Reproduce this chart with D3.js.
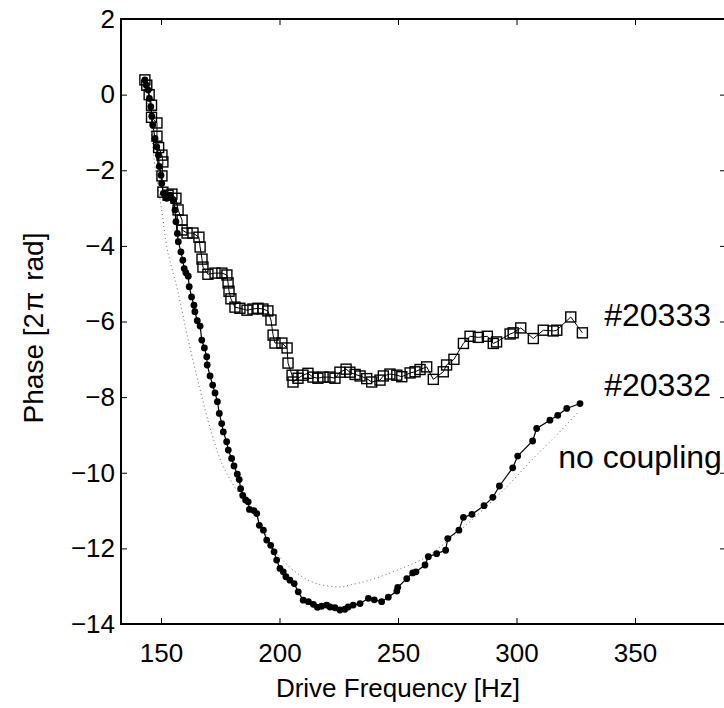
<!DOCTYPE html>
<html>
<head>
<meta charset="utf-8">
<script src="https://cdn.jsdelivr.net/npm/d3@7"></script>
<style>
    body { margin: 0; background: #fff; }
    text { font-family: "Liberation Sans", Arial, sans-serif; fill: #000; }
</style>
</head>
<body>
<div id="chart"></div>
<script>
// #20333 (squares)
const freq20333 = [143.2, 144.0, 145.0, 146.0, 146.0, 148.3, 148.3, 149.0, 150.4, 150.8, 150.4, 150.8,
    153.0, 154.6, 156.3, 157.2, 158.9, 158.9, 161.0, 163.5, 166.0, 166.5, 167.3, 167.7, 169.8, 172.8,
    175.7, 177.8, 178.3, 178.7, 179.5, 181.2, 183.3, 186.3, 188.8, 190.9, 193.0, 195.1, 196.4, 197.3,
    198.1, 201.0, 203.2, 203.6, 205.3, 205.7, 207.8, 209.9, 212.0, 214.1, 216.2, 218.4, 221.3, 223.4,
    225.5, 228.1, 229.7, 231.9, 234.0, 236.8, 238.9, 242.4, 243.8, 246.6, 249.5, 251.6, 255.1, 257.2,
    259.3, 262.1, 264.9, 269.1, 270.5, 273.6, 277.6, 280.4, 283.9, 287.7, 290.2, 291.6, 297.3, 298.6,
    301.8, 307.1, 311.3, 315.5, 317.0, 322.9, 327.8];
const phase20333 = [0.39, 0.25, 0.0, -0.28, -0.6, -0.75, -1.1, -1.4, -1.6, -1.78, -2.15, -2.58,
    -2.66, -2.63, -2.74, -3.05, -3.32, -3.58, -3.66, -3.66, -3.77, -4.03, -4.35, -4.56, -4.75, -4.72,
    -4.72, -4.77, -4.98, -5.2, -5.4, -5.62, -5.65, -5.70, -5.67, -5.65, -5.67, -5.72, -5.96, -6.36,
    -6.57, -6.57, -6.70, -7.10, -7.42, -7.60, -7.50, -7.42, -7.37, -7.47, -7.50, -7.47, -7.47, -7.50,
    -7.34, -7.26, -7.34, -7.40, -7.44, -7.51, -7.60, -7.55, -7.44, -7.39, -7.42, -7.46, -7.36, -7.33,
    -7.27, -7.20, -7.53, -7.33, -7.15, -7.00, -6.58, -6.39, -6.42, -6.39, -6.58, -6.54, -6.33, -6.30,
    -6.17, -6.45, -6.23, -6.25, -6.23, -5.88, -6.30];

// #20332 (dots)
const freq20332 = [143.2, 143.8, 144.6, 145.1, 145.7, 146.1, 146.5, 147.5, 148.2, 148.9, 149.3, 150.0,
    150.3, 151.0, 152.4, 153.8, 155.2, 155.9, 156.3, 156.9, 157.3, 158.4, 159.2, 159.8, 160.5, 161.5,
    161.9, 162.9, 163.9, 164.3, 165.3, 166.5, 167.2, 168.3, 169.3, 169.5, 170.7, 171.8, 172.8, 173.8,
    174.6, 175.6, 176.3, 177.7, 178.4, 179.8, 180.8, 182.2, 183.0, 183.6, 184.5, 185.7, 186.8, 187.3,
    189.2, 190.4, 191.5, 193.2, 194.6, 196.3, 197.7, 198.8, 200.2, 201.6, 202.7, 204.4, 206.2, 207.9,
    210.0, 212.2, 214.3, 216.0, 217.8, 219.9, 221.3, 223.4, 225.5, 227.6, 229.0, 231.1, 234.0, 237.5,
    240.0, 243.1, 245.9, 249.5, 249.9, 253.7, 256.2, 257.6, 261.4, 262.8, 266.3, 270.1, 271.0, 275.7,
    277.6, 281.2, 286.3, 290.0, 292.8, 298.4, 300.5, 306.8, 308.5, 314.1, 317.4, 321.2, 326.8];
const phase20332 = [0.39, 0.25, 0.12, -0.10, -0.32, -0.57, -0.80, -1.16, -1.38, -1.60, -1.90, -2.13,
    -2.35, -2.61, -2.74, -2.66, -2.79, -3.05, -3.36, -3.67, -3.89, -4.16, -4.38, -4.60, -4.71, -4.80,
    -5.08, -5.35, -5.57, -5.74, -5.98, -6.12, -6.49, -6.70, -6.93, -7.15, -7.44, -7.68, -7.89, -8.12,
    -8.43, -8.70, -8.92, -9.18, -9.40, -9.62, -9.82, -10.04, -10.18, -10.42, -10.60, -10.72, -10.77, -10.97,
    -11.00, -11.08, -11.39, -11.52, -11.78, -11.92, -12.09, -12.31, -12.53, -12.62, -12.75, -12.84, -12.93, -13.15,
    -13.37, -13.41, -13.48, -13.56, -13.53, -13.50, -13.55, -13.57, -13.63, -13.61, -13.55, -13.50, -13.46, -13.32,
    -13.36, -13.41, -13.29, -13.13, -13.03, -12.80, -12.65, -12.62, -12.44, -12.22, -12.14, -12.05, -11.74, -11.52,
    -11.18, -11.10, -10.87, -10.65, -10.35, -9.87, -9.56, -9.16, -8.83, -8.61, -8.48, -8.30, -8.17];

// no coupling (dotted)
const freqNoCoupling = [143.2, 144.5, 146.1, 147.5, 150.3, 152.4, 153.8, 157.3, 161.5, 166.5, 171.4,
    176.3, 184.7, 190.4, 198.8, 208.6, 215.7, 225.5, 229.7, 238.2, 249.5, 262.1, 276.2, 291.6, 297.3,
    307.1, 314.1, 317.6, 326.1];
const phaseNoCoupling = [0.3, -0.2, -1.11, -1.91, -3.05, -4.02, -4.40, -5.26, -6.49, -7.81, -8.96,
    -9.84, -10.72, -11.17, -12.13, -12.71, -12.93, -13.02, -12.97, -12.84, -12.58, -12.22, -11.52, -10.64, -10.28,
    -9.62, -9.18, -8.96, -8.39];

const xTicks = [150, 200, 250, 300, 350];
const yTicks = [2, 0, -2, -4, -6, -8, -10, -12, -14];

const labels = [
    { text: '#20333', f: 337.0, p: -6.12 },
    { text: '#20332', f: 337.0, p: -7.97 },
    { text: 'no coupling', f: 317.6, p: -9.88 }
];

const chartWidth = 724;
const chartHeight = 708;
const plotLeft = 121, plotRight = 726, plotTop = 19, plotBottom = 624;
const fontSize = 26;

const svg = d3.select('#chart')
    .append('svg')
    .attr('width', chartWidth)
    .attr('height', chartHeight)
    .style('display', 'block');

svg.append('rect')
    .attr('width', chartWidth)
    .attr('height', chartHeight)
    .attr('fill', '#fff');

// 150 Hz sits at x=161, 350 Hz at x=635
const xScale = d3.scaleLinear()
    .domain([150, 350])
    .range([161, 635]);

const yScale = d3.scaleLinear()
    .domain([-14, 2])
    .range([plotBottom, plotTop]);

const toPoints = (fs, ps) => fs.map((f, i) => [f, ps[i]]);
const sq = toPoints(freq20333, phase20333);
const dots = toPoints(freq20332, phase20332);
const noc = toPoints(freqNoCoupling, phaseNoCoupling);

// axes, ticks pointing inward
const styleAxis = g => {
    g.select('.domain').remove();
    g.selectAll('.tick line').attr('stroke', '#000').attr('stroke-width', 1);
    g.selectAll('.tick text')
        .style('font-size', fontSize + 'px')
        .style('font-family', '"Liberation Sans", Arial, sans-serif');
};

svg.append('g')
    .attr('transform', 'translate(0,' + plotBottom + ')')
    .call(d3.axisBottom(xScale).tickValues(xTicks).tickSize(-6).tickPadding(20))
    .call(styleAxis);

svg.append('g')
    .attr('transform', 'translate(0,' + plotTop + ')')
    .call(d3.axisTop(xScale).tickValues(xTicks).tickSize(-6).tickFormat(''))
    .call(styleAxis);

svg.append('g')
    .attr('transform', 'translate(' + plotLeft + ',0)')
    .call(d3.axisLeft(yScale).tickValues(yTicks).tickSize(-6).tickPadding(6)
        .tickFormat(d => d < 0 ? '\u2212' + Math.abs(d) : d))
    .call(styleAxis);

svg.append('g')
    .attr('transform', 'translate(' + plotRight + ',0)')
    .call(d3.axisRight(yScale).tickValues(yTicks).tickSize(-6).tickFormat(''))
    .call(styleAxis);

svg.append('rect')
    .attr('x', plotLeft)
    .attr('y', plotTop)
    .attr('width', plotRight - plotLeft)
    .attr('height', plotBottom - plotTop)
    .attr('fill', 'none')
    .attr('stroke', '#000')
    .attr('stroke-width', 2);

const line = d3.line()
    .x(d => xScale(d[0]))
    .y(d => yScale(d[1]));

// no coupling
svg.append('path')
    .datum(noc)
    .attr('d', line.curve(d3.curveCatmullRom))
    .attr('fill', 'none')
    .attr('stroke', '#666')
    .attr('stroke-width', 1)
    .attr('stroke-dasharray', '1,3');

line.curve(d3.curveLinear);

// #20332
svg.append('path')
    .datum(dots)
    .attr('d', line)
    .attr('fill', 'none')
    .attr('stroke', '#000')
    .attr('stroke-width', 1.2);

svg.append('g')
    .selectAll('circle')
    .data(dots)
    .enter()
    .append('circle')
    .attr('cx', d => xScale(d[0]))
    .attr('cy', d => yScale(d[1]))
    .attr('r', 3.4)
    .attr('fill', '#000');

// #20333
svg.append('path')
    .datum(sq)
    .attr('d', line)
    .attr('fill', 'none')
    .attr('stroke', '#000')
    .attr('stroke-width', 1);

svg.append('g')
    .selectAll('rect')
    .data(sq)
    .enter()
    .append('rect')
    .attr('x', d => xScale(d[0]) - 5)
    .attr('y', d => yScale(d[1]) - 5)
    .attr('width', 10)
    .attr('height', 10)
    .attr('fill', 'none')
    .attr('stroke', '#000')
    .attr('stroke-width', 1.4);

svg.selectAll('.series-label')
    .data(labels)
    .enter()
    .append('text')
    .attr('class', 'series-label')
    .attr('x', d => xScale(d.f))
    .attr('y', d => yScale(d.p))
    .style('font-size', '32px')
    .text(d => d.text);

// axis titles
svg.append('text')
    .attr('x', 398)
    .attr('y', 697)
    .attr('text-anchor', 'middle')
    .style('font-size', fontSize + 'px')
    .text('Drive Frequency [Hz]');

const yTitle = svg.append('text')
    .attr('transform', 'translate(43,328) rotate(-90)')
    .attr('text-anchor', 'middle')
    .style('font-size', '28px');
yTitle.append('tspan').text('Phase [2');
yTitle.append('tspan').attr('dx', 2).text('\u03c0');
yTitle.append('tspan').attr('dx', 3).text(' rad]');
</script>
</body>
</html>
